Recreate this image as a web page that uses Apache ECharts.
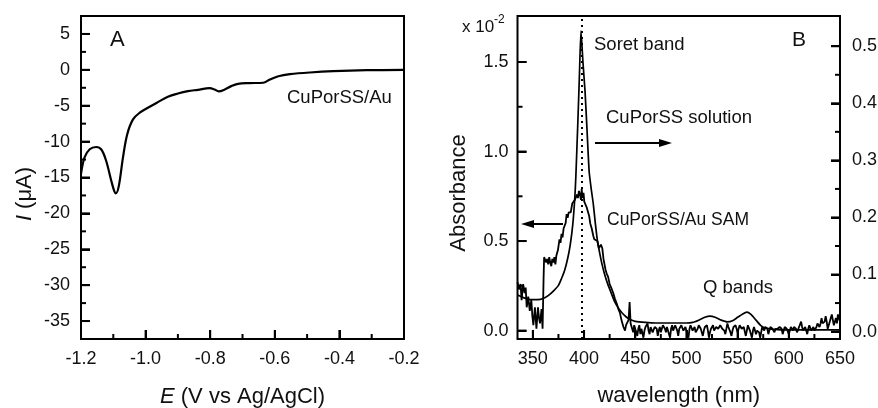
<!DOCTYPE html>
<html>
<head>
<meta charset="utf-8">
<script src="https://cdn.jsdelivr.net/npm/echarts@6/dist/echarts.min.js"></script>
<style>
  html, body { margin: 0; padding: 0; background: #fff; }
  #chart { width: 878px; height: 408px; background: #fff; }
</style>
</head>
<body>
<div id="chart"></div>
<script>
// ---- Panel A: cyclic voltammogram of CuPorSS/Au ----
const potentialV = [-1.200, -1.189, -1.173, -1.153, -1.137, -1.122, -1.106, -1.097, -1.092, -1.083,
  -1.070, -1.057, -1.039, -1.018, -0.993, -0.962, -0.931, -0.900, -0.869, -0.838,
  -0.802, -0.786, -0.774, -0.755, -0.735, -0.714, -0.680, -0.636, -0.615, -0.589,
  -0.553, -0.491, -0.419, -0.315, -0.200];
const currentUA = [-14.5, -12.2, -11.07, -10.75, -11.1, -12.7, -15.5, -16.9, -17.2, -16.2,
  -12.2, -9.0, -6.9, -5.97, -5.28, -4.5, -3.75, -3.3, -2.97, -2.78,
  -2.55, -2.74, -3.0, -2.74, -2.27, -1.95, -1.85, -1.8, -1.35, -0.89,
  -0.61, -0.37, -0.19, -0.05, 0.0];

const potentialTicks = [-1.2, -1.0, -0.8, -0.6, -0.4, -0.2];
const potentialMinor = [-1.1, -0.9, -0.7, -0.5, -0.3];
const currentTicks = [-35, -30, -25, -20, -15, -10, -5, 0, 5];
const currentMinor = [-32.5, -27.5, -22.5, -17.5, -12.5, -7.5, -2.5, 2.5];

// ---- Panel B: UV-vis spectra ----
// CuPorSS in solution (right axis)
const solutionNm = [335, 340, 345, 350, 355, 360, 365, 370, 375, 378,
  381, 384, 386.5, 389, 391, 392, 394, 395.5, 397, 399,
  401, 403, 405, 407, 409, 411, 413, 415, 417.3, 420,
  423, 426, 430, 434, 437, 441, 445, 450, 460, 470,
  480, 490, 500, 506, 512, 518, 523, 528, 534, 540,
  545, 550, 555, 559, 563, 568, 573, 578, 585, 600,
  620, 650];
const solutionAbs = [0.064, 0.060, 0.057, 0.056, 0.056, 0.058, 0.063, 0.071, 0.081, 0.093,
  0.107, 0.128, 0.152, 0.188, 0.235, 0.272, 0.370, 0.450, 0.527, 0.470,
  0.420, 0.350, 0.280, 0.250, 0.224, 0.190, 0.160, 0.140, 0.120, 0.101,
  0.084, 0.070, 0.052, 0.040, 0.033, 0.026, 0.021, 0.018, 0.016, 0.015,
  0.015, 0.015, 0.015, 0.016, 0.020, 0.025, 0.027, 0.025, 0.020, 0.017,
  0.019, 0.025, 0.031, 0.034, 0.030, 0.020, 0.010, 0.006, 0.004, 0.003,
  0.003, 0.003];

// CuPorSS/Au SAM (left axis, x 10^-2)
const samNm = [335, 336.5, 338, 339, 340.5, 342, 343, 344, 345.5, 347,
  348.5, 349.5, 350.5, 352, 353.5, 355, 356, 357, 358.5, 359.5,
  360.5, 361, 362, 363, 364, 365, 366, 367, 368, 369,
  370, 371, 372, 373, 374.5, 376, 377, 378, 379, 380,
  381, 382, 383, 384, 385, 386, 387, 388.5, 390, 391,
  392, 393, 394, 395, 396, 397, 397.7, 398.5, 399.5, 400.2,
  401, 402.5, 404, 405, 406, 407.5, 409, 410, 411.5, 413,
  414.5, 415.5, 416.5, 417.8, 419, 420, 421, 422, 423.5, 425,
  426.5, 428.5, 430, 432, 433.5, 435, 436.5, 437.5, 438.5, 440,
  441, 442.5, 443.5, 444.5, 445.5, 446.5, 448, 449,
  450, 451, 452, 453, 454, 455, 456, 457, 458, 459,
  460, 461, 462, 463, 464, 465, 466, 467, 468, 469,
  470, 471, 472, 473, 474, 475, 476, 477, 478, 479,
  480, 481, 482, 483, 484, 485, 486, 487, 488, 489,
  490, 491, 492, 493, 494, 495, 496, 497, 498, 499,
  500, 501, 502, 503, 504, 505, 506, 507, 508, 509,
  510, 511, 512, 513, 514, 515, 516, 517, 518, 519,
  520, 521, 522, 523, 524, 525, 526, 527, 528, 529,
  530, 531, 532, 533, 534, 535, 536, 537, 538, 539,
  540, 541, 542, 543, 544, 545, 546, 547, 548, 549,
  550, 551, 552, 553, 554, 555, 556, 557, 558, 559,
  560, 561, 562, 563, 564, 565, 566, 567, 568, 569,
  570, 571, 572, 573, 574, 575, 576, 577, 578, 579,
  580, 581, 582, 583, 584, 585, 586, 587, 588, 589,
  590, 591, 592, 593, 594, 595, 596, 597, 598, 599,
  600, 601, 602, 603, 604, 605, 606, 607, 608, 609,
  610, 611, 612, 613, 614, 615, 616, 617, 618, 619,
  620, 621, 622, 623, 624, 625, 626, 627, 628, 629,
  630, 631, 632, 633, 634, 635, 636, 637, 638, 639,
  640, 641, 642, 643, 644, 645, 646, 647, 648, 649,
  650];
const samAbs = [0.27, 0.23, 0.26, 0.17, 0.26, 0.21, 0.24, 0.13, 0.19, 0.11,
  0.17, 0.08, 0.03, 0.13, 0.01, 0.13, 0.07, 0.04, 0.12, 0.01,
  0.30, 0.41, 0.42, 0.38, 0.40, 0.37, 0.41, 0.38, 0.36, 0.40,
  0.38, 0.41, 0.37, 0.42, 0.45, 0.51, 0.49, 0.54, 0.52, 0.57,
  0.58, 0.60, 0.65, 0.63, 0.66, 0.67, 0.66, 0.71, 0.70, 0.73,
  0.72, 0.76, 0.74, 0.78, 0.76, 0.73, 0.79, 0.74, 0.77, 0.72,
  0.73, 0.69, 0.66, 0.64, 0.60, 0.57, 0.53, 0.51, 0.52, 0.50,
  0.46, 0.45, 0.48, 0.46, 0.40, 0.37, 0.34, 0.32, 0.30, 0.26,
  0.24, 0.21, 0.18, 0.15, 0.12, 0.10, 0.06, 0.04, 0.02, 0.00,
  0.03, 0.02, 0.06, 0.16, 0.04, 0.02, -0.01, 0.03,
  0.02, -0.01, -0.03, 0.01, 0.03, -0.02, 0.01, 0.02, -0.04, 0.00,
  0.02, 0.03, 0.04, 0.00, -0.02, 0.02, 0.03, -0.01, 0.00, 0.02,
  0.03, 0.01, -0.03, 0.00, 0.02, -0.01, 0.01, 0.03, 0.04, 0.01,
  -0.01, 0.02, 0.02, -0.02, -0.04, 0.01, 0.03, 0.00, 0.01, 0.03,
  0.02, 0.00, -0.03, 0.01, 0.02, 0.03, 0.04, 0.00, -0.01, 0.02,
  0.02, -0.02, -0.04, 0.01, 0.03, 0.02, 0.00, 0.01, 0.02, -0.01,
  -0.02, 0.01, 0.03, 0.02, 0.01, -0.01, -0.03, 0.00, 0.02, 0.03,
  0.03, 0.00, -0.04, -0.01, 0.01, 0.02, 0.03, 0.00, -0.01, 0.02,
  0.02, 0.01, 0.00, 0.03, 0.04, 0.01, 0.02, 0.00, -0.02, 0.01,
  0.04, 0.02, 0.01, -0.01, -0.03, 0.00, 0.02, 0.01, 0.03, 0.02,
  -0.01, 0.01, 0.03, 0.02, 0.01, 0.00, 0.02, 0.01, -0.03, 0.00,
  0.03, 0.02, 0.00, -0.02, -0.04, 0.00, 0.02, 0.01, -0.02, 0.00,
  0.01, -0.01, -0.04, -0.01, 0.02, 0.01, 0.00, 0.02, 0.03, 0.01,
  -0.02, 0.00, 0.02, 0.03, 0.01, 0.00, -0.01, 0.01, 0.02, 0.01,
  0.00, 0.02, 0.03, 0.01, -0.02, 0.00, 0.02, 0.01, 0.01, 0.00,
  -0.02, 0.00, 0.02, 0.01, 0.00, 0.02, 0.03, 0.01, -0.01, 0.00,
  0.02, 0.03, 0.05, 0.02, 0.00, 0.01, 0.02, 0.00, -0.02, 0.01,
  0.03, 0.02, 0.00, 0.01, 0.02, 0.00, -0.01, 0.02, 0.04, 0.03,
  0.02, 0.04, 0.07, 0.04, 0.03, 0.05, 0.08, 0.05, 0.01, 0.03,
  0.05, 0.07, 0.09, 0.06, 0.03, 0.05, 0.07, 0.04, 0.09, 0.08,
  0.05];

const nmTicks = [350, 400, 450, 500, 550, 600, 650];
const nmMinor = [375, 425, 475, 525, 575, 625];
const samTicks = [0.0, 0.5, 1.0, 1.5];
const samMinor = [0.25, 0.75, 1.25];
const solTicks = [0.0, 0.1, 0.2, 0.3, 0.4, 0.5];
const solMinor = [0.05, 0.15, 0.25, 0.35, 0.45];
const soretPeakNm = 398;

// Axis ranges
const E_MIN = -1.2, E_MAX = -0.2, I_MIN = -37.5, I_MAX = 7.5;
const NM_MIN = 335, NM_MAX = 650, SAM_MIN = -0.047, SAM_MAX = 1.757, SOL_MIN = -0.013, SOL_MAX = 0.553;

const FONT = '"Liberation Sans", Arial, Helvetica, sans-serif';
const INK = '#000';
const MAJOR = 9, MINOR = 5;

function pairs(xs, ys) { return xs.map((x, i) => [x, ys[i]]); }

// Inward tick marks, placed through the axes' own scales.
// Item: [x, y, direction, length]; direction 0 = up from bottom edge, 1 = right from left edge, 2 = left from right edge.
function tickItems(values, fixed, dir, len, alongX) {
  return values.map(v => alongX ? [v, fixed, dir, len] : [fixed, v, dir, len]);
}
function renderTick(params, api) {
  const p = api.coord([api.value(0), api.value(1)]);
  const dir = api.value(2), len = api.value(3);
  let x2 = p[0], y2 = p[1];
  if (dir === 0) y2 -= len; else if (dir === 1) x2 += len; else x2 -= len;
  return { type: 'line', shape: { x1: p[0], y1: p[1], x2: x2, y2: y2 }, style: { stroke: INK, lineWidth: 2 } };
}

const ticksA = [].concat(
  tickItems(potentialTicks, I_MIN, 0, MAJOR, true), tickItems(potentialMinor, I_MIN, 0, MINOR, true),
  tickItems(currentTicks, E_MIN, 1, MAJOR, false), tickItems(currentMinor, E_MIN, 1, MINOR, false));
const ticksBLeft = [].concat(
  tickItems(nmTicks, SAM_MIN, 0, MAJOR, true), tickItems(nmMinor, SAM_MIN, 0, MINOR, true),
  tickItems(samTicks, NM_MIN, 1, MAJOR, false), tickItems(samMinor, NM_MIN, 1, MINOR, false));
const ticksBRight = [].concat(
  tickItems(solTicks, NM_MAX, 2, MAJOR, false), tickItems(solMinor, NM_MAX, 2, MINOR, false));

const labelStyle = { fontFamily: FONT, fontSize: 18, color: '#111' };

function axis(extra, majorValues) {
  return Object.assign({
    type: 'value',
    axisLine: { show: false, onZero: false },
    splitLine: { show: false },
    axisTick: { show: true, inside: true, length: MAJOR, customValues: majorValues, lineStyle: { color: INK, width: 2 } }
  }, extra);
}

const chart = echarts.init(document.getElementById('chart'));

function text(x, y, str, size) {
  return {
    type: 'text', x: x, y: y,
    style: { text: str, fontFamily: FONT, fontSize: size, fill: '#111', align: 'left', verticalAlign: 'middle' }
  };
}

function arrow(x1, x2, y) {
  const dir = x2 > x1 ? 1 : -1;
  const head = 13, half = 4;
  return [
    { type: 'line', shape: { x1: x1, y1: y, x2: x2 - dir * head, y2: y }, style: { stroke: INK, lineWidth: 2 } },
    { type: 'polygon', shape: { points: [[x2, y], [x2 - dir * head, y - half], [x2 - dir * head, y + half]] }, style: { fill: INK } }
  ];
}

const frame = { show: true, borderColor: INK, borderWidth: 2, containLabel: false, outerBoundsMode: 'none' };

const option = {
  animation: false,
  grid: [
    Object.assign({ left: 81, top: 16, width: 323, height: 323 }, frame),
    Object.assign({ left: 517.5, top: 16, width: 322.5, height: 323 }, frame)
  ],
  xAxis: [
    axis({
      gridIndex: 0, min: E_MIN, max: E_MAX,
      axisLabel: Object.assign({ customValues: potentialTicks, formatter: v => v.toFixed(1), margin: 11 }, labelStyle),
      name: '{i|E} (V vs Ag/AgCl)', nameLocation: 'middle', nameGap: 47,
      nameTextStyle: { fontFamily: FONT, fontSize: 22, color: '#111',
        rich: { i: { fontFamily: FONT, fontSize: 22, fontStyle: 'italic', color: '#111' } } }
    }, potentialTicks),
    axis({
      gridIndex: 1, min: NM_MIN, max: NM_MAX,
      axisLabel: Object.assign({ customValues: nmTicks, formatter: v => String(Math.round(v)), margin: 11 }, labelStyle),
      name: 'wavelength (nm)', nameLocation: 'middle', nameGap: 46,
      nameTextStyle: { fontFamily: FONT, fontSize: 22, color: '#111' }
    }, nmTicks)
  ],
  yAxis: [
    axis({
      gridIndex: 0, min: I_MIN, max: I_MAX,
      axisLabel: Object.assign({ customValues: currentTicks, formatter: v => String(Math.round(v)), margin: 11 }, labelStyle)
    }, currentTicks),
    axis({
      gridIndex: 1, min: SAM_MIN, max: SAM_MAX,
      axisLabel: Object.assign({ customValues: samTicks, formatter: v => v.toFixed(1), margin: 9 }, labelStyle)
    }, samTicks),
    axis({
      gridIndex: 1, min: SOL_MIN, max: SOL_MAX, position: 'right',
      axisLabel: Object.assign({ customValues: solTicks, formatter: v => v.toFixed(1), margin: 12 }, labelStyle)
    }, solTicks)
  ],
  series: [
    {
      name: 'CuPorSS/Au', type: 'line', xAxisIndex: 0, yAxisIndex: 0,
      data: pairs(potentialV, currentUA), smooth: 0.35, showSymbol: false,
      lineStyle: { color: INK, width: 2.2 }
    },
    {
      name: 'CuPorSS solution', type: 'line', xAxisIndex: 1, yAxisIndex: 2,
      data: pairs(solutionNm, solutionAbs), smooth: 0.2, showSymbol: false,
      lineStyle: { color: INK, width: 1.7 },
      markLine: {
        silent: true, symbol: ['none', 'none'], label: { show: false },
        lineStyle: { color: INK, type: [2, 4], width: 2 },
        data: [{ xAxis: soretPeakNm }]
      }
    },
    {
      name: 'CuPorSS/Au SAM', type: 'line', xAxisIndex: 1, yAxisIndex: 1,
      data: pairs(samNm, samAbs), smooth: false, showSymbol: false,
      lineStyle: { color: INK, width: 1.8 }
    },
    { name: 'ticks A', type: 'custom', xAxisIndex: 0, yAxisIndex: 0, data: ticksA,
      renderItem: renderTick, silent: true, clip: false, z: 5 },
    { name: 'ticks B left', type: 'custom', xAxisIndex: 1, yAxisIndex: 1, data: ticksBLeft,
      renderItem: renderTick, silent: true, clip: false, z: 5 },
    { name: 'ticks B right', type: 'custom', xAxisIndex: 1, yAxisIndex: 2, data: ticksBRight,
      renderItem: renderTick, silent: true, clip: false, z: 5 }
  ],
  graphic: [
    text(110, 40, 'A', 22),
    text(287, 98, 'CuPorSS/Au', 18.5),
    {
      type: 'text', x: 25, y: 194, rotation: Math.PI / 2,
      style: { text: '{i|I} (μA)', fontFamily: FONT, fontSize: 22, fill: '#111', align: 'center', verticalAlign: 'middle',
        rich: { i: { fontFamily: FONT, fontSize: 22, fontStyle: 'italic', fill: '#111' } } }
    },
    {
      type: 'text', x: 459, y: 193, rotation: Math.PI / 2,
      style: { text: 'Absorbance', fontFamily: FONT, fontSize: 22, fill: '#111', align: 'center', verticalAlign: 'middle' }
    },
    text(462, 27, 'x 10', 17),
    text(494, 20, '-2', 12),
    text(594, 45, 'Soret band', 18.5),
    text(792, 40, 'B', 21),
    text(606, 118, 'CuPorSS solution', 18.5),
    text(607, 220, 'CuPorSS/Au SAM', 17.5),
    text(703, 288, 'Q bands', 18.5)
  ].concat(arrow(595, 672, 143), arrow(563, 521, 224))
};

chart.setOption(option);
</script>
</body>
</html>
